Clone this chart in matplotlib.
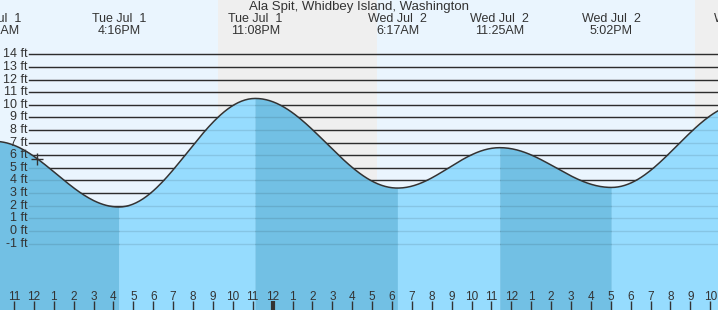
import numpy as np
import matplotlib.pyplot as plt
from matplotlib.transforms import blended_transform_factory

plt.rcParams['font.family'] = ['Liberation Sans', 'DejaVu Sans']

station = "Ala Spit, Whidbey Island, Washington"

# tide extremes, hours counted from Tue Jul 1 00:00
event_hours = [10.02, 16.27, 23.13, 30.28, 35.42, 41.03, 47.65]
event_heights = [7.1, 1.9, 10.5, 3.4, 6.6, 3.45, 10.1]
event_days = ["Tue Jul  1", "Tue Jul  1", "Tue Jul  1", "Wed Jul  2",
              "Wed Jul  2", "Wed Jul  2", "Wed Jul  2"]
event_times = ["10:01AM", "4:16PM", "11:08PM", "6:17AM", "11:25AM",
               "5:02PM", "11:39PM"]

# darkness: (sunset, sunrise)
nights = [(21.27, 29.25), (45.22, 53.0)]
now_hour = 12.18

height_ticks = list(range(-1, 15))
hour_ticks = list(range(11, 47))

x_lo, x_hi = 10.296, 46.388
y_lo, y_hi = -6.26, 18.3

day_bg = '#eaf5fe'
night_bg = '#efefef'
falling = '#72c0e4'
rising = '#96dcfe'
ink = '#333333'

fig = plt.figure(figsize=(7.18, 3.10), dpi=100)
ax = fig.add_axes([0, 0, 1, 1])
ax.set_xlim(x_lo, x_hi)
ax.set_ylim(y_lo, y_hi)
ax.set_facecolor(day_bg)
ax.set_axisbelow(False)
for s in ax.spines.values():
    s.set_visible(False)

for a, b in nights:
    ax.axvspan(a, b, color=night_bg, zorder=0, lw=0)

# height lines
for h in height_ticks:
    ax.axhline(h, xmin=0.041, color=ink, lw=1.0, zorder=1)
    ax.axhline(h, xmin=0.041, color='black', alpha=0.1, lw=1.0, zorder=3)

# tide curve between extremes (cosine shape)
curve_t, curve_h = [], []
for i in range(len(event_hours) - 1):
    t1, t2 = event_hours[i], event_hours[i + 1]
    h1, h2 = event_heights[i], event_heights[i + 1]
    t = np.linspace(t1, t2, 80)
    h = h1 + (h2 - h1) * (1 - np.cos(np.pi * (t - t1) / (t2 - t1))) / 2
    c = falling if h2 < h1 else rising
    ax.fill_between(t, y_lo, h, facecolor=c, edgecolor=c, lw=0.3, zorder=2)
    curve_t.extend(t)
    curve_h.extend(h)
ax.plot(curve_t, curve_h, color=ink, lw=1.1, zorder=4)

now_h = np.interp(now_hour, curve_t, curve_h)
ax.plot([now_hour], [now_h], marker='+', color=ink, ms=9, mew=1.0, zorder=5)

# y labels
ytr = blended_transform_factory(ax.transAxes, ax.transData)
for h in height_ticks:
    ax.text(0.038, h, f"{h} ft", transform=ytr, ha='right', va='center',
            fontsize=9, color=ink, zorder=6)

# event labels along the top
xtr = blended_transform_factory(ax.transData, ax.transAxes)
for t, d, tm in zip(event_hours, event_days, event_times):
    ax.text(t, 1 - 19.5 / 310, d, transform=xtr, ha='center', va='center',
            fontsize=9, color=ink, zorder=6)
    ax.text(t, 1 - 31.5 / 310, tm, transform=xtr, ha='center', va='center',
            fontsize=9, color=ink, zorder=6)

ax.text(0.5, 1 - 7 / 310, station, transform=ax.transAxes, ha='center',
        va='center', fontsize=9.5, color=ink, zorder=6)

# hour ticks at the bottom
ax.set_yticks([])
ax.set_xticks(hour_ticks)
ax.set_xticklabels([str((h % 12) or 12) for h in hour_ticks])
ax.tick_params(axis='x', direction='in', length=6.5, width=1.0, color=ink,
               labelcolor=ink, labelsize=8.5, pad=-7.2)
for tk, h in zip(ax.xaxis.get_major_ticks(), hour_ticks):
    if h % 24 == 0:
        tk.tick1line.set_markeredgewidth(3)
for lab in ax.get_xticklabels():
    lab.set_va('baseline')

fig.savefig('out.png', dpi=100)
